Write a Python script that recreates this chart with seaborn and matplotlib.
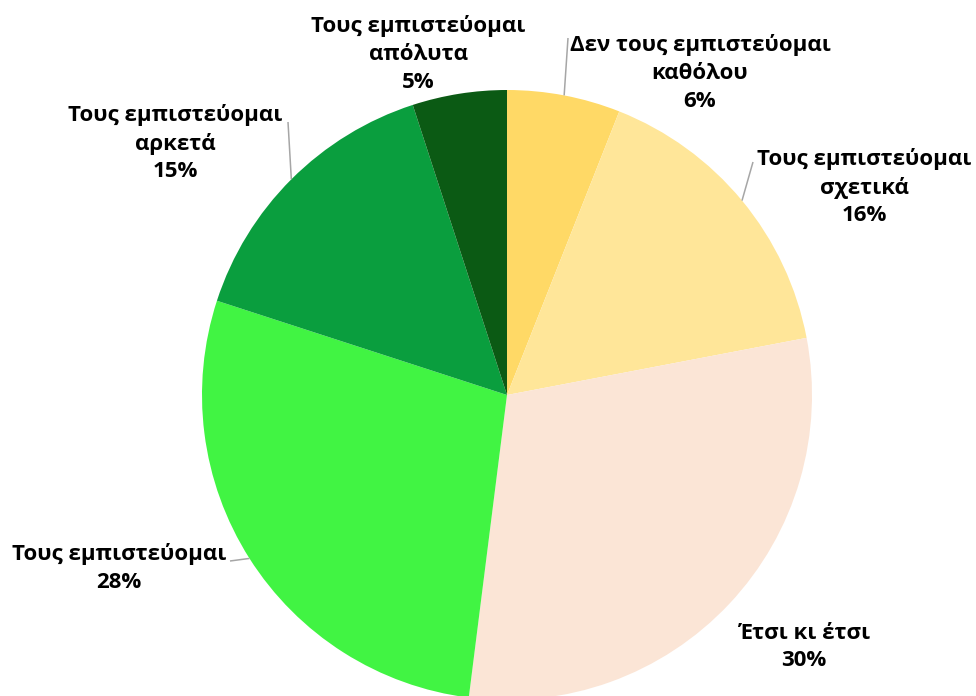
import numpy as np
import matplotlib
matplotlib.use("Agg")
import matplotlib.pyplot as plt
import seaborn as sns

# data
labels = [
    "Δεν τους εμπιστεύομαι\nκαθόλου",
    "Τους εμπιστεύομαι\nσχετικά",
    "Έτσι κι έτσι",
    "Τους εμπιστεύομαι",
    "Τους εμπιστεύομαι\nαρκετά",
    "Τους εμπιστεύομαι\nαπόλυτα",
]
values = [6, 16, 30, 28, 15, 5]
colors = ["#FFD966", "#FFE699", "#FBE5D6", "#41F443", "#0A9E3E", "#0B5A14"]

sns.set_theme(style="white")
plt.rcParams["font.family"] = ["Open Sans", "DejaVu Sans"]

W, H = 976, 696
fig = plt.figure(figsize=(W / 100, H / 100), dpi=100)
ax = fig.add_axes([0, 0, 1, 1])

cx, cy, r = 507, H - 395, 305
ax.pie(values, colors=colors, startangle=90, counterclock=False,
       center=(cx, cy), radius=r, frame=True,
       wedgeprops=dict(linewidth=0))
ax.set_xlim(0, W)
ax.set_ylim(0, H)
ax.set_aspect("equal")
ax.axis("off")

# label block centres (pixels from top-left), and leader line end (or None)
label_pos = [(700, 73), (864, 187), (804, 647), (119, 568), (175, 143), (418, 54)]
leader_end = [(568, 38), (753, 162), None, (230, 561), (288, 122), None]

cum = np.cumsum([0] + values[:-1])
for lab, v, c0, (lx, ly), le in zip(labels, values, cum, label_pos, leader_end):
    ang = np.deg2rad(90 - (c0 + v / 2) / sum(values) * 360)
    ex, ey = cx + r * np.cos(ang), cy + r * np.sin(ang)
    if le is not None:
        ax.plot([ex, le[0]], [ey, H - le[1]], color="#A6A6A6", lw=1.1,
                solid_capstyle="butt", zorder=1)
    ax.text(lx, H - ly, f"{lab}\n{v}%", ha="center", va="center",
            fontsize=16, fontweight="bold", color="#000000",
            linespacing=1.42, zorder=5)

fig.savefig("out.png", dpi=100)
